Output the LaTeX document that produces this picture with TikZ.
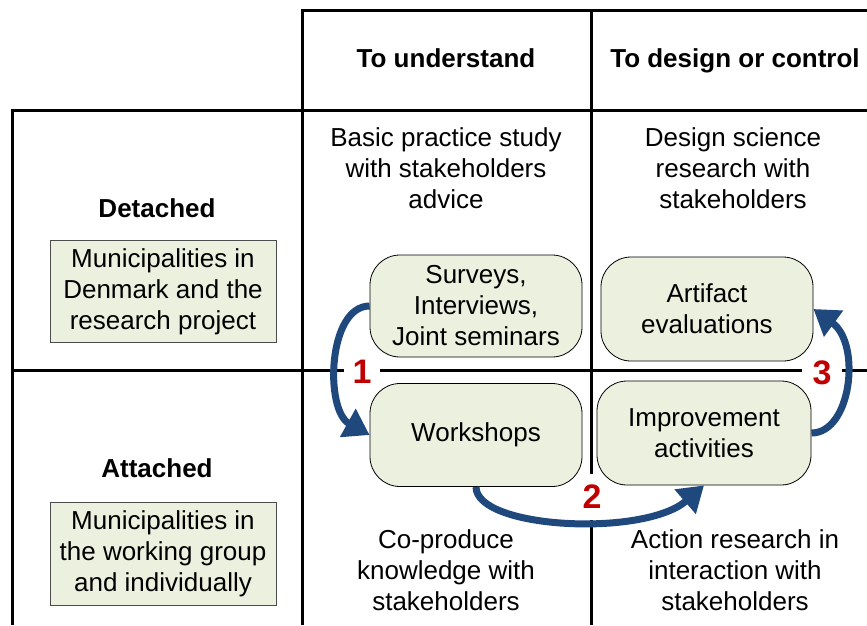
\documentclass[tikz,border=0pt]{standalone}
\usepackage{fontspec}
\setmainfont{Liberation Sans}
\usetikzlibrary{arrows.meta}
\definecolor{boxgreen}{HTML}{EBF1DE}
\definecolor{arrblue}{HTML}{1F497D}
\definecolor{numred}{HTML}{C00000}
\begin{document}
\begin{tikzpicture}[x=1pt,y=-1pt,
  grid/.style={line width=3pt, draw=black},
  txt/.style={align=center, font=\fontsize{26}{31}\selectfont, inner sep=0pt},
  hdr/.style={font=\fontsize{26}{31}\selectfont\bfseries, inner sep=0pt},
  rbox/.style={draw=black, line width=0.8pt, fill=boxgreen, rounded corners=30pt,
    align=center, font=\fontsize{26}{31}\selectfont, minimum width=212pt,
    minimum height=103pt, inner sep=0pt},
  sbox/.style={draw=black!70, line width=1pt, fill=boxgreen,
    align=center, font=\fontsize{26}{31}\selectfont, minimum width=226pt,
    minimum height=102pt, inner sep=0pt},
  num/.style={text=numred, font=\fontsize{34}{34}\selectfont\bfseries, fill=white, inner sep=0pt},
  arr/.style={draw=arrblue, line width=7pt, -{Triangle[length=25pt,width=31pt]}}
]
\useasboundingbox (0,0) rectangle (867,625);
\fill[white] (0,0) rectangle (867,625);
% grid
\draw[grid] (867,10) -- (302,10) -- (302,625);
\draw[grid] (591,10) -- (591,625);
\draw[grid] (12,625) -- (12,110) -- (867,110);
\draw[grid] (12,370) -- (867,370);
% number labels (white background makes the gaps)
\node[num, minimum width=36pt, minimum height=30pt] (n1) at (362,372) {1};
\node[num, minimum width=40pt, minimum height=30pt] (n3) at (822,373) {3};
\node[num, minimum width=20pt, minimum height=46pt] (n2) at (592,497) {2};
% headers
\node[hdr, anchor=base] (h1) at (446,67) {To understand};
\node[hdr, anchor=base] (h2) at (735,67) {To design or control};
\node[hdr] (r1) at (157,208) {Detached};
\node[hdr] (r2) at (157,468) {Attached};
% cell texts
\node[txt] (c11) at (446,168) {Basic practice study\\with stakeholders\\advice};
\node[txt] (c12) at (733,168) {Design science\\research with\\stakeholders};
\node[txt] (c21) at (446,570) {Co-produce\\knowledge with\\stakeholders};
\node[txt] (c22) at (735,570) {Action research in\\interaction with\\stakeholders};
% left boxes
\node[sbox] (m1) at (163,291.5) {Municipalities in\\Denmark and the\\research project};
\node[sbox, minimum height=103pt] (m2) at (163,553.5) {Municipalities in\\the working group\\and individually};
% rounded boxes
\node[rbox, minimum height=102pt] (surv) at (476,306) {Surveys,\\Interviews,\\Joint seminars};
\node[rbox] (work) at (476,435) {Workshops};
\node[rbox, minimum height=104pt] (art) at (707,309) {Artifact\\evaluations};
\node[rbox, minimum width=214pt, minimum height=104pt] (imp) at (704,433) {Improvement\\activities};
% arrows
\draw[arr] (surv.west) .. controls +(-42,0) and +(-45,-25) .. (work.west);
\draw[arr] (work.south) .. controls +(0,42) and +(-60,52) .. (imp.south);
\draw[arr] (imp.east) .. controls +(40,0) and +(48,35) .. (art.east);
\end{tikzpicture}
\end{document}
